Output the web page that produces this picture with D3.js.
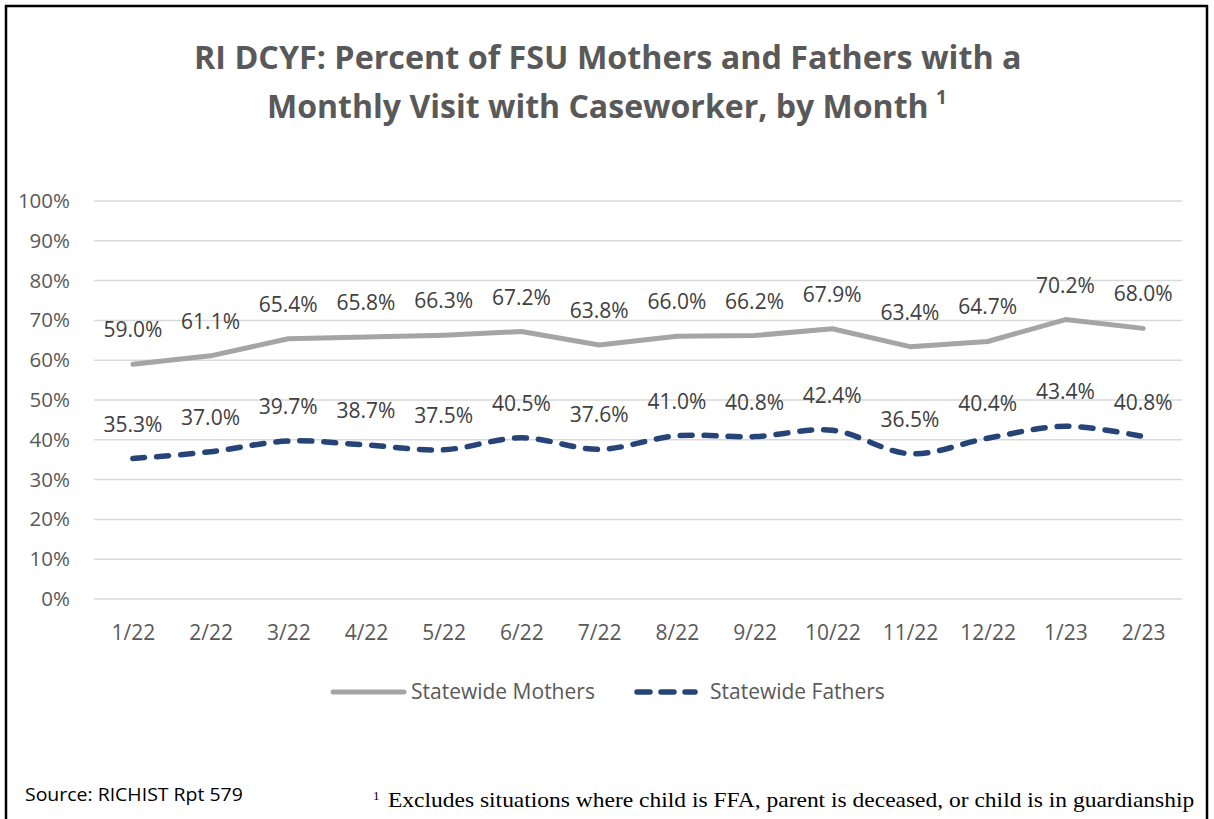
<!DOCTYPE html>
<html>
<head>
<meta charset="utf-8">
<script src="https://cdn.jsdelivr.net/npm/d3@7"></script>
<style>
  body { margin: 0; background: #fff; }
  svg { display: block; font-family: "Open Sans", "Noto Sans", sans-serif; }
</style>
</head>
<body>
<div id="chart"></div>
<script>
// chart data
const months = ["1/22", "2/22", "3/22", "4/22", "5/22", "6/22", "7/22", "8/22", "9/22", "10/22", "11/22", "12/22", "1/23", "2/23"];
const mothers = [59.0, 61.1, 65.4, 65.8, 66.3, 67.2, 63.8, 66.0, 66.2, 67.9, 63.4, 64.7, 70.2, 68.0];
const fathers = [35.3, 37.0, 39.7, 38.7, 37.5, 40.5, 37.6, 41.0, 40.8, 42.4, 36.5, 40.4, 43.4, 40.8];
const yTicks = [0, 10, 20, 30, 40, 50, 60, 70, 80, 90, 100];

const width = 1214;
const height = 819;

const svg = d3.select("#chart")
    .append("svg")
    .attr("width", width)
    .attr("height", height);

// squeeze a text horizontally so it spans w pixels starting at x0
function fitText(sel, x0, w) {
    const natural = sel.node().getComputedTextLength();
    sel.attr("x", 0)
        .attr("transform", `translate(${x0},0) scale(${w / natural},1)`);
}

// outer frame (bottom edge falls outside the picture)
svg.append("rect")
    .attr("x", 6)
    .attr("y", 6)
    .attr("width", 1201)
    .attr("height", 830)
    .attr("fill", "none")
    .attr("stroke", "#000")
    .attr("stroke-width", 2.5);

// title
const title = svg.append("g")
    .attr("fill", "#595959")
    .attr("font-size", 33)
    .attr("font-weight", 700);
const t1 = title.append("text")
    .attr("y", 69)
    .text("RI DCYF: Percent of FSU Mothers and Fathers with a");
fitText(t1, 194, 828);
const t2 = title.append("text")
    .attr("y", 118)
    .text("Monthly Visit with Caseworker, by Month");
fitText(t2, 267, 662);
title.append("text")
    .attr("x", 936).attr("y", 104)
    .attr("font-size", 19)
    .text("1");

// scales
const x = d3.scalePoint()
    .domain(months)
    .range([94, 1182])
    .padding(0.5);

const y = d3.scaleLinear()
    .domain([0, 100])
    .range([599, 201]);

// gridlines
svg.append("g")
    .selectAll("line")
    .data(yTicks)
    .enter().append("line")
    .attr("x1", 94)
    .attr("x2", 1182)
    .attr("y1", d => y(d))
    .attr("y2", d => y(d))
    .attr("stroke", "#d9d9d9")
    .attr("stroke-width", 1.5);

// y axis labels
const yAxis = svg.append("g")
    .attr("transform", "translate(78,0)")
    .call(d3.axisLeft(y).tickValues(yTicks).tickFormat(d => d + "%").tickSize(0).tickPadding(8));
yAxis.select(".domain").remove();
yAxis.selectAll("text")
    .attr("font-size", 20.5)
    .attr("font-family", "Open Sans, sans-serif")
    .attr("fill", "#595959");

// x axis labels
const xAxis = svg.append("g")
    .attr("transform", "translate(0,616)")
    .call(d3.axisBottom(x).tickSize(0).tickPadding(9));
xAxis.select(".domain").remove();
xAxis.selectAll("text")
    .attr("font-size", 21)
    .attr("font-family", "Open Sans, sans-serif")
    .attr("fill", "#595959");

// lines
const motherLine = d3.line()
    .x((d, i) => x(months[i]))
    .y(d => y(d));

const fatherLine = d3.line()
    .x((d, i) => x(months[i]))
    .y(d => y(d))
    .curve(d3.curveCatmullRom.alpha(0.5));

svg.append("path")
    .datum(mothers)
    .attr("d", motherLine)
    .attr("fill", "none")
    .attr("stroke", "#a5a5a5")
    .attr("stroke-width", 5)
    .attr("stroke-linecap", "round")
    .attr("stroke-linejoin", "round");

svg.append("path")
    .datum(fathers)
    .attr("d", fatherLine)
    .attr("fill", "none")
    .attr("stroke", "#264478")
    .attr("stroke-width", 5.5)
    .attr("stroke-linecap", "round")
    .attr("stroke-dasharray", "12,12");

// data labels
function addLabels(values) {
    svg.append("g")
        .selectAll("text")
        .data(values)
        .enter().append("text")
        .attr("x", (d, i) => x(months[i]))
        .attr("y", d => y(d) - 27)
        .attr("text-anchor", "middle")
        .attr("font-size", 21)
        .attr("fill", "#404040")
        .text(d => d.toFixed(1) + "%");
}
addLabels(mothers);
addLabels(fathers);

// legend
const legend = svg.append("g").attr("font-size", 21).attr("fill", "#595959");
legend.append("line")
    .attr("x1", 333).attr("x2", 404)
    .attr("y1", 692).attr("y2", 692)
    .attr("stroke", "#a5a5a5")
    .attr("stroke-width", 5)
    .attr("stroke-linecap", "round");
legend.append("text")
    .attr("x", 411).attr("y", 699)
    .text("Statewide Mothers");
legend.append("line")
    .attr("x1", 637).attr("x2", 695)
    .attr("y1", 692).attr("y2", 692)
    .attr("stroke", "#264478")
    .attr("stroke-width", 5.5)
    .attr("stroke-linecap", "round")
    .attr("stroke-dasharray", "13,11");
legend.append("text")
    .attr("x", 710).attr("y", 699)
    .text("Statewide Fathers");

// footer
const src = svg.append("text")
    .attr("y", 801)
    .attr("font-size", 18)
    .attr("fill", "#000")
    .text("Source: RICHIST Rpt 579");
fitText(src, 25, 218);

const note = svg.append("g")
    .attr("font-family", "Liberation Serif, DejaVu Serif, serif")
    .attr("fill", "#000");
note.append("text")
    .attr("x", 373).attr("y", 800)
    .attr("font-size", 13)
    .text("1");
const noteText = note.append("text")
    .attr("y", 807)
    .attr("font-size", 21)
    .text("Excludes situations where child is FFA, parent is deceased, or child is in guardianship");
fitText(noteText, 388, 807);
</script>
</body>
</html>
